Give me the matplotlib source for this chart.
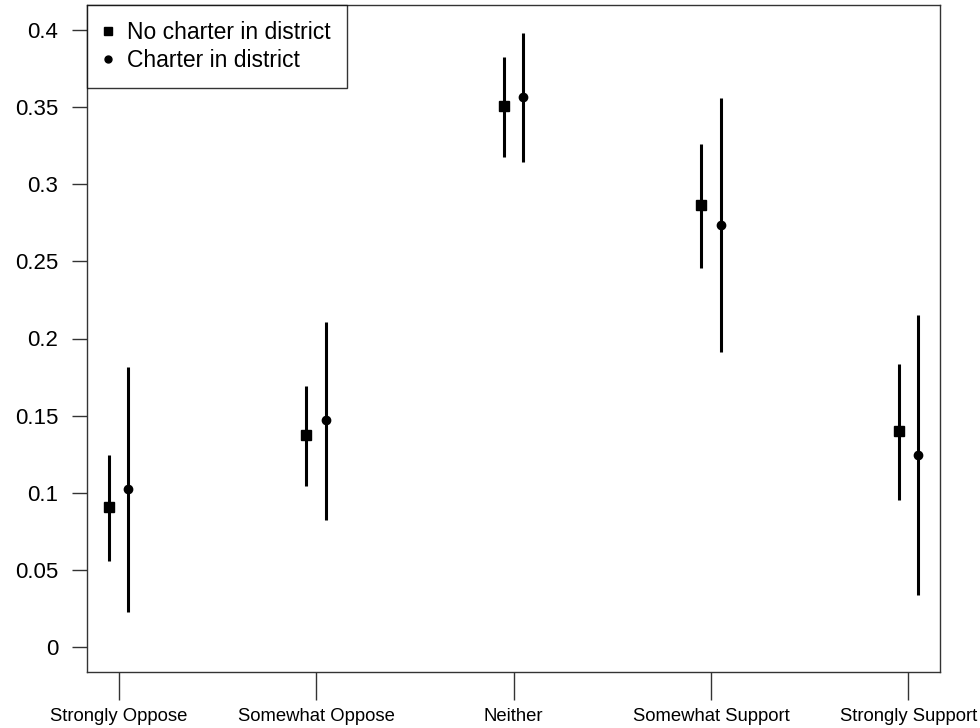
import matplotlib
matplotlib.use("Agg")
import matplotlib.pyplot as plt
from matplotlib.lines import Line2D
import numpy as np

categories = ["Strongly Oppose", "Somewhat Oppose", "Neither", "Somewhat Support", "Strongly Support"]

no_charter_est = [0.0908, 0.1373, 0.3505, 0.2863, 0.1398]
no_charter_lo = [0.0562, 0.1042, 0.3177, 0.2457, 0.0951]
no_charter_hi = [0.1243, 0.1690, 0.3825, 0.3261, 0.1837]

charter_est = [0.1026, 0.1474, 0.3564, 0.2738, 0.1247]
charter_lo = [0.0227, 0.0825, 0.3144, 0.1912, 0.0339]
charter_hi = [0.1818, 0.2107, 0.3978, 0.3559, 0.2154]

yticks = [0, 0.05, 0.1, 0.15, 0.2, 0.25, 0.3, 0.35, 0.4]
ytick_labels = ["0", "0.05", "0.1", "0.15", "0.2", "0.25", "0.3", "0.35", "0.4"]

plt.rcParams['font.family'] = ['Liberation Sans', 'DejaVu Sans']

fig = plt.figure(figsize=(9.8, 7.28), dpi=100)
ax = fig.add_axes([87/980, 1-672/728, (940-87)/980, (672-5)/728])

x = np.arange(1, len(categories) + 1)
off = 0.05
lw = 2.2
for xi, e, lo, hi in zip(x - off, no_charter_est, no_charter_lo, no_charter_hi):
    ax.plot([xi, xi], [lo, hi], color='black', lw=lw, solid_capstyle='butt')
ax.plot(x - off, no_charter_est, linestyle='none', marker='s', ms=7.2, color='black')
for xi, e, lo, hi in zip(x + off, charter_est, charter_lo, charter_hi):
    ax.plot([xi, xi], [lo, hi], color='black', lw=lw, solid_capstyle='butt')
ax.plot(x + off, charter_est, linestyle='none', marker='o', ms=6.0, color='black')

ax.set_xlim(0.84, 5.16)
ax.set_ylim(-0.016, 0.416)
ax.set_xticks(x)
ax.set_xticklabels(categories, fontsize=13.3)
ax.set_yticks(yticks)
ax.set_yticklabels(ytick_labels, fontsize=16)
ax.tick_params(axis='x', length=20, width=1, color='#333333', pad=6)
ax.tick_params(axis='y', length=10.8, width=1, color='#333333', pad=10)
for sp in ax.spines.values():
    sp.set_color('#333333')
    sp.set_linewidth(1)

handles = [Line2D([], [], linestyle='none', marker='s', ms=5.5, color='black'),
           Line2D([], [], linestyle='none', marker='o', ms=5, color='black')]
leg = ax.legend(handles, ["No charter in district", "Charter in district"],
                loc='upper left', bbox_to_anchor=(0, 1), borderaxespad=0,
                fontsize=16.5, frameon=True, fancybox=False, borderpad=0.7,
                handlelength=0.45, handletextpad=0.6, labelspacing=0.22)
leg.get_frame().set_edgecolor('black')
leg.get_frame().set_linewidth(1)

fig.savefig("out.png", dpi=100)
